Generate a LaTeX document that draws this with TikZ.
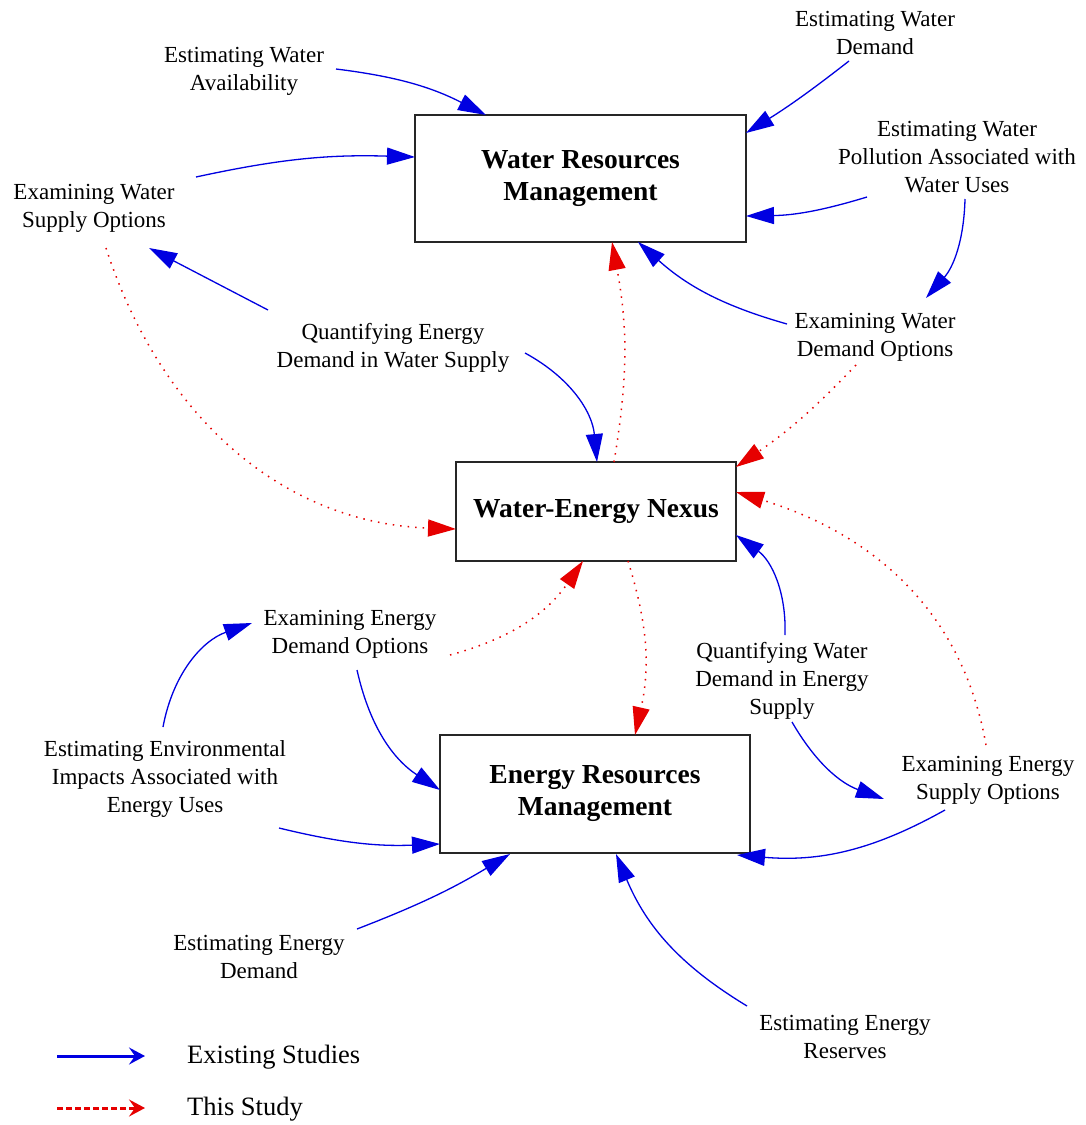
\documentclass[tikz,border=0pt]{standalone}
\usepackage{fontspec}
\setmainfont{Liberation Serif}
\usetikzlibrary{arrows.meta,calc}
\definecolor{ablue}{RGB}{0,0,225}
\definecolor{ared}{RGB}{230,0,0}
\begin{document}
\begin{tikzpicture}[x=1pt,y=-1pt,
 lbl/.style={align=center,inner sep=0pt,font=\fontsize{23}{28}\selectfont},
 boxn/.style={draw=black!85,line width=1.6pt,fill=white,align=center,inner sep=0pt,font=\fontsize{27.5}{32}\selectfont\bfseries},
 ex/.style={ablue,line width=1.3pt,-{Triangle[length=28pt,width=17pt]}},
 ts/.style={ared,line width=1.5pt,dash pattern=on 1.5pt off 6pt,-{Triangle[length=28pt,width=17pt]}},
 legtxt/.style={anchor=west,inner sep=0pt,font=\fontsize{26.5}{30}\selectfont},
]
\fill[white] (0,0) rectangle (1086,1125);
\useasboundingbox (0,0) rectangle (1086,1125);

% boxes
\node[boxn,minimum width=331pt,minimum height=127pt] (wrm) at (580.5,178.5) {Water Resources\\Management};
\node[boxn,minimum width=280pt,minimum height=99pt] (wen) at (596,511.5) {Water-Energy Nexus};
\node[boxn,minimum width=310pt,minimum height=118pt] (erm) at (595,794) {Energy Resources\\Management};

% labels
\node[lbl] (ewa) at (244,71) {Estimating Water\\Availability};
\node[lbl] (ewd) at (875,33) {Estimating Water\\Demand};
\node[lbl] (ewp) at (957,157) {Estimating Water\\Pollution Associated with\\Water Uses};
\node[lbl] (ews) at (94,208) {Examining Water\\Supply Options};
\node[lbl] (qed) at (393,348) {Quantifying Energy\\Demand in Water Supply};
\node[lbl] (ewdo) at (875,337) {Examining Water\\Demand Options};
\node[lbl] (eedo) at (350,634) {Examining Energy\\Demand Options};
\node[lbl] (eei) at (165,779) {Estimating Environmental\\Impacts Associated with\\Energy Uses};
\node[lbl] (qwd) at (782,681) {Quantifying Water\\Demand in Energy\\Supply};
\node[lbl] (eeso) at (988,780) {Examining Energy\\Supply Options};
\node[lbl] (eed) at (259,957) {Estimating Energy\\Demand};
\node[lbl] (eer) at (845,1037) {Estimating Energy\\Reserves};

% existing studies (blue)
\draw[ex] ([shift={(92,-2)}]ewa.center) to[bend left=10] ([shift={(-94.5,-63.5)}]wrm.center);
\draw[ex] ([shift={(-26,28)}]ewd.center) to[bend left=3] ([shift={(165.5,-45.5)}]wrm.center);
\draw[ex] ([shift={(-90,40)}]ewp.center) to[bend left=8] ([shift={(165.5,37.5)}]wrm.center);
\draw[ex] ([shift={(8,42)}]ewp.center) to[bend left=20] ([shift={(51,-39)}]ewdo.center);
\draw[ex] ([shift={(-88,-13)}]ewdo.center) to[bend left=13] ([shift={(57.5,63.5)}]wrm.center);
\draw[ex] ([shift={(102,-31)}]ews.center) to[bend left=7] ([shift={(-165.5,-21.5)}]wrm.center);
\draw[ex] ([shift={(-125,-38)}]qed.center) -- ([shift={(55,40)}]ews.center);
\draw[ex] ([shift={(132,5)}]qed.center) to[bend left=28] ([shift={(1,-49.5)}]wen.center);
\draw[ex] ([shift={(3,-46)}]qwd.center) to[bend right=28] ([shift={(140,23.5)}]wen.center);
\draw[ex] ([shift={(10,41)}]qwd.center) to[bend right=20] ([shift={(-104,19)}]eeso.center);
\draw[ex] ([shift={(-43,30)}]eeso.center) to[bend left=17] ([shift={(142,61)}]erm.center);
\draw[ex] ([shift={(7,36)}]eedo.center) to[bend right=22] ([shift={(-155,-4)}]erm.center);
\draw[ex] ([shift={(-2,-52)}]eei.center) to[bend left=30] ([shift={(-98,-11)}]eedo.center);
\draw[ex] ([shift={(114,49)}]eei.center) to[bend right=8] ([shift={(-155,50)}]erm.center);
\draw[ex] ([shift={(98,-28)}]eed.center) to[bend right=5] ([shift={(-85,60)}]erm.center);
\draw[ex] ([shift={(-98,-31)}]eer.center) to[bend left=18] ([shift={(21,60)}]erm.center);

% this study (red)
\draw[ts] ([shift={(18,-49.5)}]wen.center) to[bend right=10] ([shift={(31.5,63.5)}]wrm.center);
\draw[ts] ([shift={(12,40)}]ews.center) to[out=-72,in=178] ([shift={(-140,17.5)}]wen.center);
\draw[ts] ([shift={(-19,28)}]ewdo.center) to[bend left=6] ([shift={(140,-44.5)}]wen.center);
\draw[ts] ([shift={(-2,-35)}]eeso.center) to[out=100,in=-17] ([shift={(140,-19.5)}]wen.center);
\draw[ts] ([shift={(100,21)}]eedo.center) to[bend right=20] ([shift={(-13,49.5)}]wen.center);
\draw[ts] ([shift={(32,49.5)}]wen.center) to[bend left=15] ([shift={(40,-59)}]erm.center);

% legend
\coordinate (la1) at (57,1056);
\coordinate (la2) at (145,1056);
\coordinate (lb1) at (57,1108);
\coordinate (lb2) at (145,1108);
\draw[ablue,line width=3pt,-{Stealth[length=16pt,width=17pt,inset=6pt]}] (la1) -- (la2);
\draw[ared,line width=3pt,dash pattern=on 6pt off 3pt,-{Stealth[length=16pt,width=17pt,inset=6pt]}] (lb1) -- (lb2);
\node[legtxt] (lt1) at (187,1057) {Existing Studies};
\node[legtxt] (lt2) at (187,1109) {This Study};
\end{tikzpicture}
\end{document}
